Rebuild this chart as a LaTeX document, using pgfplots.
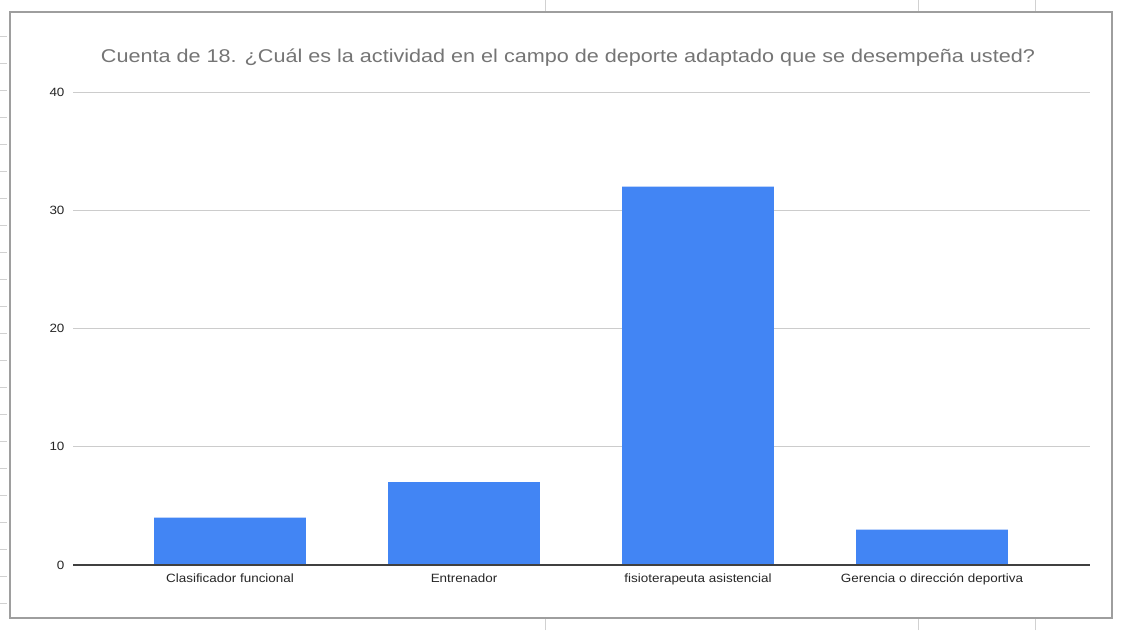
\documentclass[border=0pt]{standalone}
\usepackage{pgfplots}
\pgfplotsset{compat=1.18}
\usepackage{fontspec}
\setmainfont{Liberation Sans}
\definecolor{barblue}{HTML}{4285F4}
\definecolor{titlegray}{HTML}{757575}
\definecolor{framegray}{HTML}{9E9E9E}
\newcommand{\sx}[1]{\scalebox{1.12}[1]{#1}}
\begin{document}
\begin{tikzpicture}[x=1pt,y=1pt]
\useasboundingbox (0,0) rectangle (1122,630);
\fill[white] (0,0) rectangle (1122,630);
% spreadsheet background lines
\foreach \yy in {27,54,81,108,135,162,189,216,243,270,297,324,351,378,405,432,459,486,513,540,567,594} {\draw[black!18, line width=0.8pt] (0,\yy) -- (7,\yy);}
\draw[black!18, line width=0.8pt] (545,0) -- (545,12);
\draw[black!18, line width=0.8pt] (918,0) -- (918,12);
\draw[black!18, line width=0.8pt] (1035,0) -- (1035,12);
\draw[black!18, line width=0.8pt] (545,618) -- (545,630);
\draw[black!18, line width=0.8pt] (918,618) -- (918,630);
\draw[black!18, line width=0.8pt] (1035,618) -- (1035,630);
% chart frame
\draw[framegray, line width=1.3pt] (10,12) rectangle (1112,618);
% title
\node[text=titlegray, font=\fontsize{18.5}{20}\selectfont, inner sep=0pt] at (568,572) {\resizebox{934pt}{\height}{Cuenta de 18. ¿Cuál es la actividad en el campo de deporte adaptado que se desempeña usted?}};
\begin{axis}[
  at={(73pt,65pt)}, anchor=south west,
  scale only axis, width=1017pt, height=473pt,
  xmin=-0.671, xmax=3.675, ymin=0, ymax=40,
  ytick={0,10,20,30,40},
  yticklabels={\sx{0},\sx{10},\sx{20},\sx{30},\sx{40}},
  xtick={0,1,2,3},
  xticklabels={\sx{Clasificador funcional},\sx{Entrenador},\sx{fisioterapeuta asistencial},\sx{Gerencia o dirección deportiva}},
  axis line style={draw=none},
  tick style={draw=none},
  ymajorgrids,
  grid style={color=black!20, line width=0.9pt},
  yticklabel style={font=\fontsize{12}{14}\selectfont, text=black!85, anchor=east, xshift=-5pt},
  xticklabel style={font=\fontsize{12}{14}\selectfont, text=black!85, anchor=north, yshift=-5pt},
  clip=false,
]
\addplot[ybar, bar width=0.648, fill=barblue, draw=none] coordinates {(0,4) (1,7) (2,32) (3,3)};
\draw[black!75, line width=1.3pt] (axis cs:-0.671,0) -- (axis cs:3.675,0);
\end{axis}
\end{tikzpicture}
\end{document}
